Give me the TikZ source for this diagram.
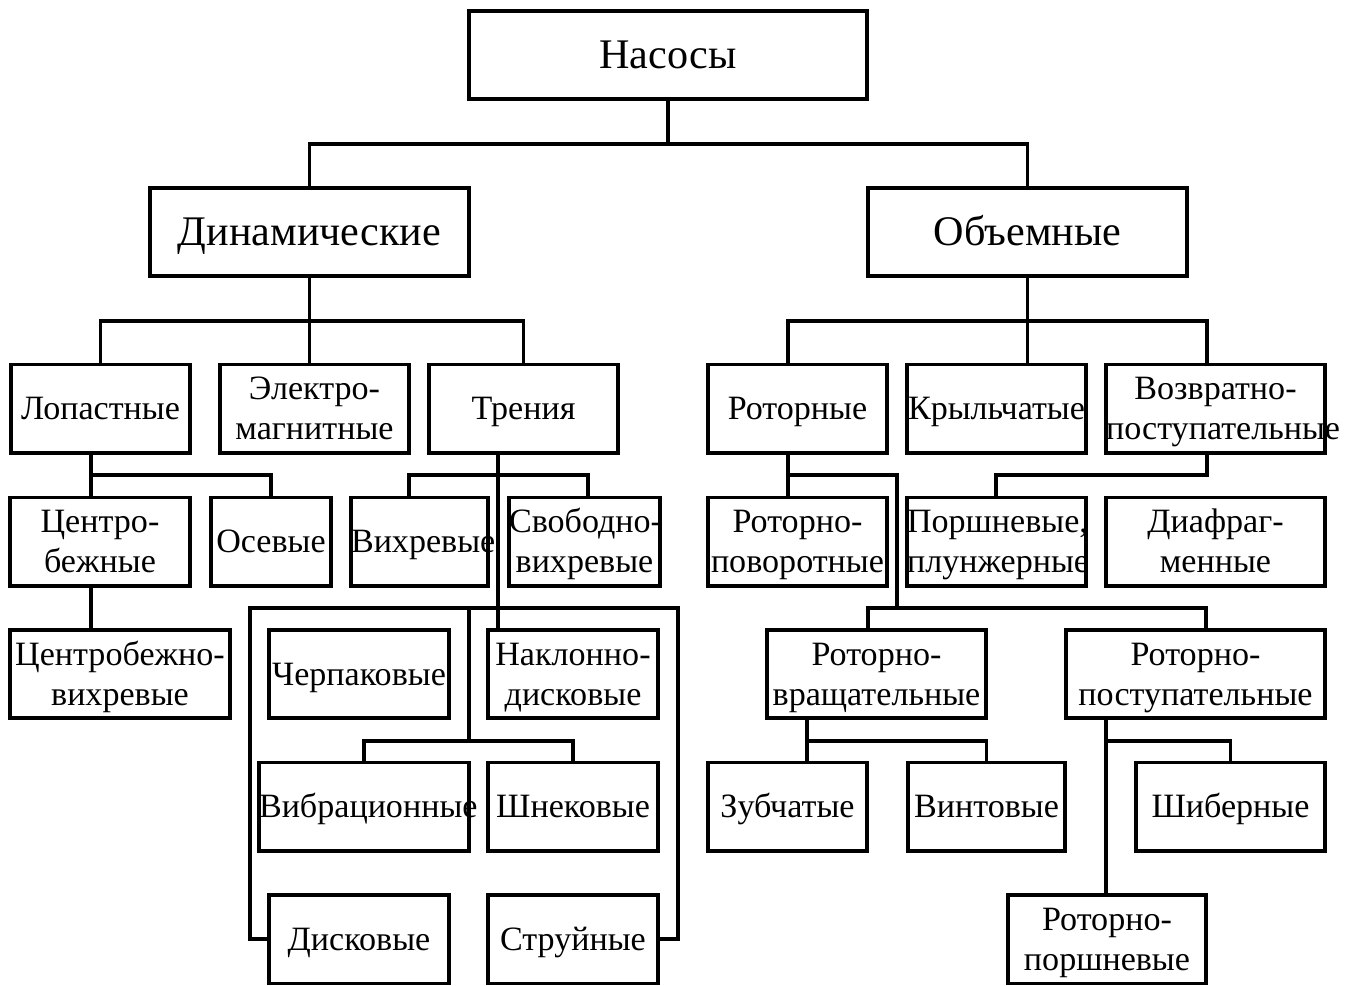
\documentclass[tikz,border=0pt]{standalone}
\usepackage{fontspec}
\setmainfont{Liberation Serif}
\hyphenpenalty=10000
\exhyphenpenalty=10000

\begin{document}
\begin{tikzpicture}[
    x=0.02cm, y=-0.02cm,
    box/.style={draw, line width=2pt, text width=#1, minimum height=1.77cm, inner sep=0pt, align=center,
        font=\fontsize{19.4pt}{22.8pt}\selectfont,
        execute at begin node={\rule{0pt}{0.9em}},
        execute at end node={\rule[-0.238em]{0pt}{0.238em}}},
    bigbox/.style={box=#1, font=\fontsize{24pt}{28pt}\selectfont},
    link/.style={line width=2pt}
]
\useasboundingbox (0,0) rectangle (1353,985);

\node[bigbox=7.96cm] (nas) at (668,55) {Насосы};
\node[bigbox=6.38cm] (dyn) at (309.5,232) {Динамические};
\node[bigbox=6.38cm] (vol) at (1027.5,232) {Объемные};

\node[box=3.58cm] (lop) at (100.5,408.5) {Лопастные};
\node[box=3.78cm] (elec) at (314.5,408.5) {Электро-\\магнитные};
\node[box=3.78cm] (tren) at (523.5,408.5) {Трения};
\node[box=3.58cm] (rot) at (797.5,408.5) {Роторные};
\node[box=3.58cm] (kryl) at (996.5,408.5) {Крыльчатые};
\node[box=4.38cm] (vozv) at (1215.5,408.5) {Возвратно-\\поступательные};

\node[box=3.6cm] (cb) at (100,541.5) {Центро-\\бежные};
\node[box=2.4cm] (os) at (271,541.5) {Осевые};
\node[box=2.74cm] (vih) at (419.5,541.5) {Вихревые};
\node[box=3.02cm] (svob) at (584.5,541.5) {Свободно-\\вихревые};
\node[box=3.58cm] (rotpov) at (797.5,541.5) {Роторно-\\поворотные};
\node[box=3.58cm] (porsh) at (996.5,541.5) {Поршневые,\\плунжерные};
\node[box=4.38cm] (diaf) at (1215.5,541.5) {Диафраг-\\менные};

\node[box=4.4cm] (cbv) at (120,674) {Центробежно-\\вихревые};
\node[box=3.6cm] (cherp) at (359,674) {Черпаковые};
\node[box=3.4cm] (nakl) at (573,674) {Наклонно-\\дисковые};
\node[box=4.38cm] (rotvr) at (876.5,674) {Роторно-\\вращательные};
\node[box=5.18cm] (rotpost) at (1195.5,674) {Роторно-\\поступательные};

\node[box=4.2cm] (vibr) at (364,806.5) {Вибрационные};
\node[box=3.4cm] (shnek) at (573,806.5) {Шнековые};
\node[box=3.18cm] (zub) at (787.5,806.5) {Зубчатые};
\node[box=3.14cm] (vint) at (986.5,806.5) {Винтовые};
\node[box=3.78cm] (shib) at (1230.5,806.5) {Шиберные};

\node[box=3.6cm] (disk) at (359,939) {Дисковые};
\node[box=3.4cm] (struy) at (573,939) {Струйные};
\node[box=3.96cm] (rotporsh) at (1107,939) {Роторно-\\поршневые};

\coordinate (jn) at (668,144);
\coordinate (jd) at (309,321);
\coordinate (jr) at (788,321);
\coordinate (jz) at (1207,321);
\coordinate (jl) at (91,475);
\coordinate (jt) at (498,475);
\coordinate (jt1) at (409,475);
\coordinate (jt2) at (588,475);
\coordinate (lpL) at (250,608);
\coordinate (lpR) at (678,608);
\coordinate (ji) at (469,608);
\coordinate (jw) at (469,741);
\coordinate (jr1) at (788,475);
\coordinate (jr2) at (897,475);
\coordinate (jr3) at (897,608);
\coordinate (jr4) at (868,608);
\coordinate (jr5) at (1206,608);
\coordinate (jz1) at (1207,475);
\coordinate (jz2) at (996,475);
\coordinate (jq) at (807,741);
\coordinate (jp) at (1106,741);

\draw[link] (nas) -- (jn);
\draw[link] (dyn) |- (jn) -| (vol);

\draw[link] (dyn) -- (dyn |- elec.north);
\draw[link] (lop) |- (jd) -| (tren);
\draw[link] (vol) -- (vol |- kryl.north);
\draw[link] (jr |- rot.north) -- (jr) -- (jz) -- (jz |- vozv.north);

\draw[link] (lop.south -| jl) -- (jl |- cb.north);
\draw[link] (jl) -| (os);
\draw[link] (cb.south -| jl) -- (jl |- cbv.north);

\draw[link] (tren.south -| jt) -- (jt |- nakl.north);
\draw[link] (jt1 |- vih.north) -- (jt1) -- (jt2) -- (jt2 |- svob.north);
\draw[link] (disk) -| (lpL) -- (lpR) |- (struy);
\draw[link] (ji) -- (jw);
\draw[link] (vibr) |- (jw) -| (shnek);

\draw[link] (rot.south -| jr1) -- (jr1 |- rotpov.north);
\draw[link] (jr1) -- (jr2) -- (jr3);
\draw[link] (jr4 |- rotvr.north) -- (jr4) -- (jr5) -- (jr5 |- rotpost.north);
\draw[link] (vozv.south -| jz1) -- (jz1) -- (jz2) -- (jz2 |- porsh.north);

\draw[link] (rotvr.south -| jq) -- (jq |- zub.north);
\draw[link] (jq) -| (vint);
\draw[link] (rotpost.south -| jp) -- (jp |- rotporsh.north);
\draw[link] (jp) -| (shib);

\end{tikzpicture}
\end{document}
